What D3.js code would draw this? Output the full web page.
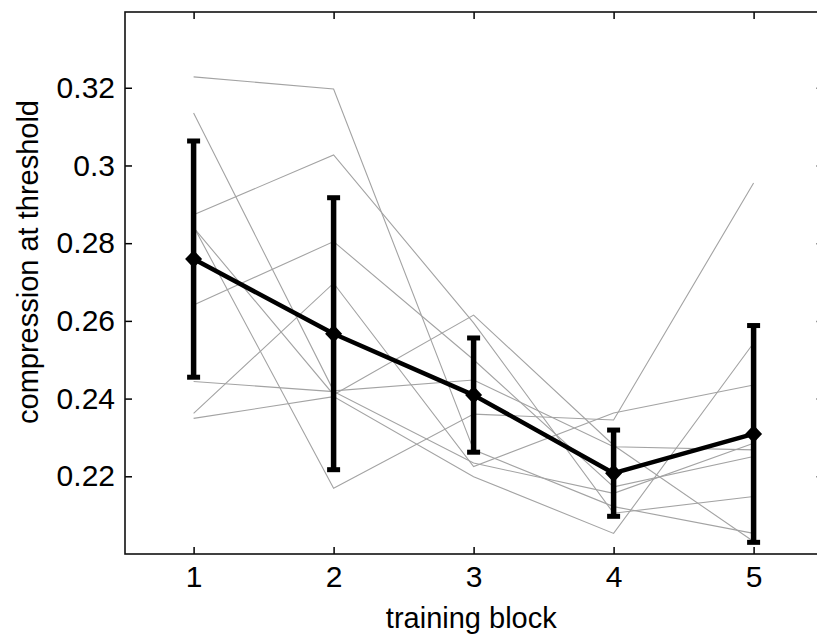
<!DOCTYPE html>
<html><head><meta charset="utf-8">
<script src="https://cdn.jsdelivr.net/npm/d3@7"></script>
<style>
body{margin:0;background:#fff;}
svg text{font-family:"Liberation Sans",Arial,Helvetica,sans-serif;fill:#000;}
</style>
</head><body>
<svg id="chart" width="817" height="635"></svg>
<script>
// ---- data ----
const blocks = [1, 2, 3, 4, 5];
const subject1 = [0.3228, 0.3197, 0.2268, 0.2122, 0.2053];
const subject2 = [0.3135, 0.2420, 0.2448, 0.2276, 0.2268];
const subject3 = [0.2873, 0.3027, 0.2595, 0.2105, 0.2148];
const subject4 = [0.2843, 0.2169, 0.2360, 0.2345, 0.2955];
const subject5 = [0.2840, 0.2410, 0.2615, 0.2280, 0.2032];
const subject6 = [0.2641, 0.2804, 0.2500, 0.2173, 0.2251];
const subject7 = [0.2444, 0.2418, 0.2234, 0.2156, 0.2285];
const subject8 = [0.2362, 0.2697, 0.2225, 0.2363, 0.2435];
const subject9 = [0.2349, 0.2405, 0.2199, 0.2053, 0.2543];
const meanValues = [0.2759, 0.2567, 0.2409, 0.2208, 0.2309];
const errorValues = [0.0304, 0.0350, 0.0147, 0.0111, 0.0279];
const xTickValues = [1, 2, 3, 4, 5];
const xTickLabels = ["1", "2", "3", "4", "5"];
const yTickValues = [0.22, 0.24, 0.26, 0.28, 0.30, 0.32];
const yTickLabels = ["0.22", "0.24", "0.26", "0.28", "0.3", "0.32"];
const xLabel = "training block";
const yLabel = "compression at threshold";

const subjects = [subject1, subject2, subject3, subject4, subject5, subject6, subject7, subject8, subject9];

// ---- layout ----
const L = 125, R = 823.6, T = 12, B = 554;
const x = d3.scaleLinear().domain([0.51, 5.5]).range([L, R]);
const y = d3.scaleLinear().domain([0.2, 0.3395]).range([B, T]);

const svg = d3.select("#chart");

// subject lines
const line = d3.line().x((d, i) => x(blocks[i])).y(d => y(d));
svg.append("g").selectAll("path").data(subjects).join("path")
  .attr("d", line)
  .attr("fill", "none")
  .attr("stroke", "#a3a3a3")
  .attr("stroke-width", 1.1);

// axes (ticks inward on all four sides)
const tickLen = 7;
const fs = "30px";
const gl = svg.append("g").attr("transform", `translate(${L},0)`)
  .call(d3.axisLeft(y).tickValues(yTickValues).tickFormat((d, i) => yTickLabels[i]).tickSize(-tickLen).tickPadding(10));
const gr = svg.append("g").attr("transform", `translate(${R},0)`)
  .call(d3.axisRight(y).tickValues(yTickValues).tickFormat("").tickSize(-tickLen));
const gb = svg.append("g").attr("transform", `translate(0,${B})`)
  .call(d3.axisBottom(x).tickValues(xTickValues).tickFormat((d, i) => xTickLabels[i]).tickSize(-tickLen).tickPadding(12));
const gt = svg.append("g").attr("transform", `translate(0,${T})`)
  .call(d3.axisTop(x).tickValues(xTickValues).tickFormat("").tickSize(-tickLen));
[gl, gr, gb, gt].forEach(g => {
  g.select(".domain").remove();
  g.selectAll(".tick line").attr("stroke", "#000").attr("stroke-width", 1.5);
  g.selectAll(".tick text").style("font-size", fs).attr("fill", "#000");
});
gb.selectAll(".tick text").attr("dy", "0.71em");

svg.append("rect").attr("x", L).attr("y", T).attr("width", R - L).attr("height", B - T)
  .attr("fill", "none").attr("stroke", "#111").attr("stroke-width", 1.6);

// mean line
svg.append("path").datum(meanValues)
  .attr("d", line)
  .attr("fill", "none").attr("stroke", "#000").attr("stroke-width", 4.5)
  .attr("stroke-linejoin", "round");

// error bars
const eb = svg.append("g");
blocks.forEach((b, i) => {
  const cx = x(b), y1 = y(meanValues[i] + errorValues[i]), y0 = y(meanValues[i] - errorValues[i]);
  eb.append("line").attr("x1", cx).attr("x2", cx).attr("y1", y1).attr("y2", y0)
    .attr("stroke", "#000").attr("stroke-width", 5.5);
  [y1, y0].forEach(yy => {
    eb.append("rect").attr("x", cx - 6.5).attr("y", yy - 2.5).attr("width", 13).attr("height", 5).attr("fill", "#000");
  });
});

// diamond markers
svg.append("g").selectAll("path").data(meanValues).join("path")
  .attr("transform", (d, i) => `translate(${x(blocks[i])},${y(d)})`)
  .attr("d", "M0,-9L8.5,0L0,9L-8.5,0Z")
  .attr("fill", "#000");

// labels
svg.append("text").attr("x", (L + R) / 2 - 3).attr("y", 628)
  .attr("text-anchor", "middle").style("font-size", "29px").text(xLabel);
svg.append("text").attr("transform", "translate(38,262) rotate(-90)")
  .attr("text-anchor", "middle").style("font-size", "29px").text(yLabel);
</script>
</body></html>
